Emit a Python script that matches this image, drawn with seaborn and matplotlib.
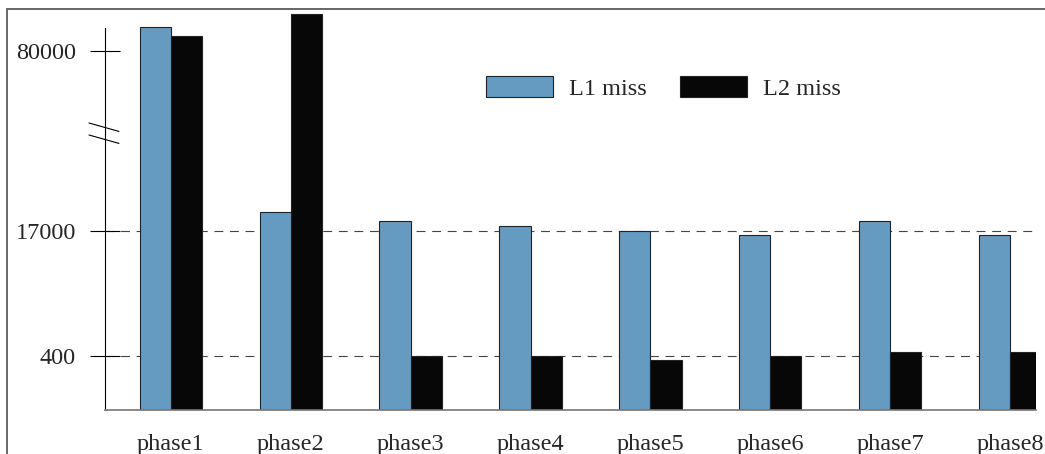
import numpy as np
import pandas as pd
import matplotlib
matplotlib.use('Agg')
import matplotlib.pyplot as plt
from matplotlib.lines import Line2D
from matplotlib.patches import Patch
import seaborn as sns

# -----------------------------
# DATA
# -----------------------------
phases = ['phase1', 'phase2', 'phase3', 'phase4', 'phase5', 'phase6', 'phase7', 'phase8']
l1_miss = [88400, 23650, 20500, 18750, 17000, 16470, 20500, 16470]
l2_miss = [85250, 92950, 400, 400, 370, 400, 930, 930]
series = ['L1 miss', 'L2 miss']
ytick_values = [400, 17000, 80000]

df = pd.DataFrame({
    'phase': phases * 2,
    'type': [series[0]] * len(phases) + [series[1]] * len(phases),
    'miss': l1_miss + l2_miss,
})

# -----------------------------
# BROKEN (PIECEWISE) Y SCALE
# -----------------------------
keys = [0, 400, 17000, 80000, 200000]
units = [0, 54, 179, 359, 359 + 120000 / 350]


def forward(v):
    return np.interp(v, keys, units)


def inverse(u):
    return np.interp(u, units, keys)


# -----------------------------
# STYLE
# -----------------------------
sns.set_theme(style='white')
plt.rcParams['font.family'] = ['Liberation Serif', 'DejaVu Serif']

blue = '#659bc1'
black = '#070707'

fig = plt.figure(figsize=(10.45, 4.54), dpi=100)
ax = fig.add_axes([105 / 1045, 44 / 454, 931 / 1045, 401 / 454])
ax.set_yscale('function', functions=(forward, inverse))

sns.barplot(data=df, x='phase', y='miss', hue='type', palette=[blue, black],
            saturation=1, width=0.52, errorbar=None, edgecolor='#222222',
            linewidth=0.8, legend=False, ax=ax, zorder=2)

ax.set_xlim(-0.55, 7.217)
ax.set_ylim(0, inverse(401))

# gridlines
for v in ytick_values[:2]:
    ax.axhline(v, color='#444444', lw=0.8, ls=(0, (8, 6)), zorder=0)

# ticks
ax.set_yticks(ytick_values)
ax.set_yticklabels([str(v) for v in ytick_values], fontsize=17.5)
ax.yaxis.set_minor_locator(matplotlib.ticker.NullLocator())
ax.tick_params(axis='y', left=True, direction='inout', length=22, width=0.8,
               color='black', pad=10)
ax.tick_params(axis='x', bottom=False, labelsize=17.5, pad=11)
ax.set_xlabel('')
ax.set_ylabel('')

# spines
ax.spines['top'].set_visible(False)
ax.spines['right'].set_visible(False)
ax.spines['left'].set_color('black')
ax.spines['left'].set_linewidth(0.8)
ax.spines['left'].set_bounds(0, inverse(382))
ax.spines['bottom'].set_color('#777777')
ax.spines['bottom'].set_linewidth(1.2)

# axis break marks
for y0 in [0.7157, 0.6858]:
    ax.plot([-0.0172, 0.015], [y0, y0 - 0.021], color='black', lw=0.8,
            transform=ax.transAxes, clip_on=False)

# legend
handles = [Patch(facecolor=blue, edgecolor='#222222', linewidth=0.8),
           Patch(facecolor=black, edgecolor='#222222', linewidth=0.8)]
fig.legend(handles, series, loc='center left', bbox_to_anchor=(0.465, 0.806),
           bbox_transform=fig.transFigure, ncol=2, frameon=False, fontsize=17.5,
           handlelength=2.75, handleheight=0.9, handletextpad=0.65, columnspacing=1.4,
           borderpad=0, borderaxespad=0)

# outer frame lines
fig.add_artist(Line2D([7 / 1045, 7 / 1045], [0, 1 - 9 / 454], color='#666666', lw=1.4))
fig.add_artist(Line2D([7 / 1045, 1], [1 - 9 / 454, 1 - 9 / 454], color='#666666', lw=1.4))

plt.savefig('out.png', dpi=100)
plt.close()
